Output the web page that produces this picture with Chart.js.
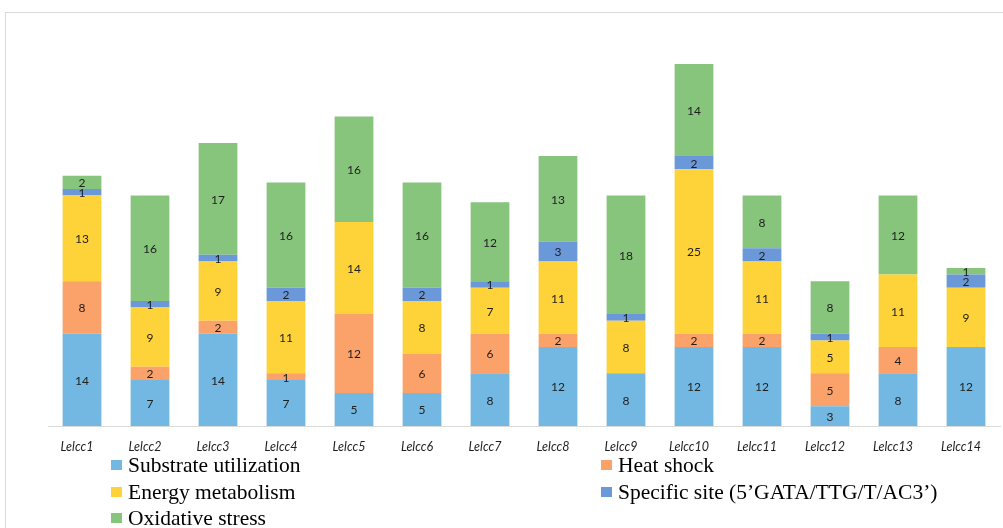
<!DOCTYPE html>
<html>
<head>
<meta charset="utf-8">
<script src="https://cdn.jsdelivr.net/npm/chart.js@4.4.1/dist/chart.umd.min.js"></script>
<style>
  html, body { margin: 0; padding: 0; background: #fff; overflow: hidden; }
  #wrap { position: relative; width: 1003px; height: 528px; }
  #frame { position: absolute; left: 5px; top: 12px; width: 1010px; height: 530px;
           border: 1px solid #d9d9d9; box-sizing: border-box; }
  canvas { position: absolute; left: 0; top: 0; }
  .lg { position: absolute; font-family: "Liberation Serif", "Times New Roman", serif;
        font-size: 21.5px; color: #000; line-height: 22px; white-space: nowrap; }
  .lg i { position: absolute; left: -17px; top: 6px; width: 11px; height: 10px; }
</style>
</head>
<body>
<div id="wrap">
  <div id="frame"></div>
  <canvas id="c" width="1003" height="528"></canvas>
  <div id="legend"></div>
</div>
<script>
// Promoter element counts per gene
const categories = ['Lelcc1','Lelcc2','Lelcc3','Lelcc4','Lelcc5','Lelcc6','Lelcc7',
                    'Lelcc8','Lelcc9','Lelcc10','Lelcc11','Lelcc12','Lelcc13','Lelcc14'];
const substrateUtilization = [14, 7, 14, 7, 5, 5, 8, 12, 8, 12, 12, 3, 8, 12];
const heatShock            = [ 8, 2,  2, 1,12, 6, 6,  2, 0,  2,  2, 5, 4,  0];
const energyMetabolism     = [13, 9,  9,11,14, 8, 7, 11, 8, 25, 11, 5,11,  9];
const specificSite         = [ 1, 1,  1, 2, 0, 2, 1,  3, 1,  2,  2, 1, 0,  2];
const oxidativeStress      = [ 2,16, 17,16,16,16,12, 13,18, 14,  8, 8,12,  1];
const seriesNames = ['Substrate utilization','Heat shock','Energy metabolism',
                     'Specific site (5\u2019GATA/TTG/T/AC3\u2019)','Oxidative stress'];
const seriesColors = ['#73b8e2','#fba16a','#fed339','#6a98d8','#87c47c'];
const seriesData = [substrateUtilization, heatShock, energyMetabolism, specificSite, oxidativeStress];

// Count label centred in each stacked segment
const segmentLabels = {
  id: 'segmentLabels',
  afterDatasetsDraw(chart) {
    const ctx = chart.ctx;
    ctx.save();
    ctx.font = '12px Lato, "Open Sans", sans-serif';
    ctx.fillStyle = '#1e1e1e';
    ctx.textAlign = 'center';
    ctx.textBaseline = 'middle';
    chart.data.datasets.forEach((ds, i) => {
      const meta = chart.getDatasetMeta(i);
      meta.data.forEach((bar, j) => {
        const v = ds.data[j];
        if (!v) return;
        ctx.fillText(String(v), bar.x, (bar.y + bar.base) / 2 + 1);
      });
    });
    ctx.restore();
  }
};

new Chart(document.getElementById('c'), {
  type: 'bar',
  data: {
    labels: categories,
    datasets: seriesData.map((d, i) => ({
      label: seriesNames[i],
      data: d,
      backgroundColor: seriesColors[i],
      borderWidth: 0,
      barPercentage: 0.57,
      categoryPercentage: 1.0
    }))
  },
  options: {
    responsive: false,
    animation: false,
    layout: { padding: { left: 48, right: 3, top: 31, bottom: 72 } },
    plugins: { legend: { display: false }, tooltip: { enabled: false } },
    scales: {
      x: {
        stacked: true,
        grid: { display: false, drawTicks: false },
        border: { display: true, color: '#d9d9d9', width: 1 },
        ticks: {
          color: '#1e1e1e',
          font: { family: 'Lato, "Open Sans", sans-serif', size: 12.5, style: 'italic' },
          padding: 13,
          labelOffset: -5,
          maxRotation: 0,
          autoSkip: false
        },
        afterFit(scale) { scale.height = 30; }
      },
      y: {
        stacked: true,
        display: false,
        min: 0,
        max: 60
      }
    }
  },
  plugins: [segmentLabels]
});

// Two-column legend beneath the axis
const legendPos = [[128, 454], [618, 454], [128, 481], [618, 481], [128, 507]];
const lg = document.getElementById('legend');
seriesNames.forEach((name, k) => {
  const el = document.createElement('div');
  el.className = 'lg';
  el.style.left = legendPos[k][0] + 'px';
  el.style.top = legendPos[k][1] + 'px';
  const sw = document.createElement('i');
  sw.style.background = seriesColors[k];
  el.appendChild(sw);
  el.appendChild(document.createTextNode(name));
  lg.appendChild(el);
});
</script>
</body>
</html>
